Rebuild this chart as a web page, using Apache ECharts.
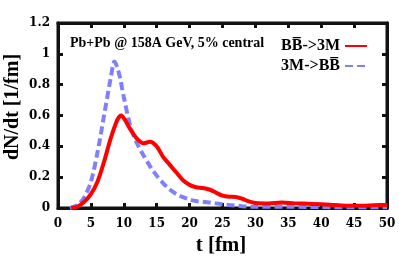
<!DOCTYPE html>
<html><head><meta charset="utf-8">
<script src="https://cdn.jsdelivr.net/npm/echarts@6/dist/echarts.min.js"></script>
<style>html,body{margin:0;padding:0;background:#fff}#c{width:399px;height:259px}</style>
</head><body><div id="c"></div>
<script>
const redT = [2, 3, 4, 5, 6, 7, 8, 9, 9.6, 10.2, 11, 12, 13, 14, 15, 16, 17, 18, 19, 20, 21, 22, 23, 24, 25, 26, 27, 28, 29, 30, 32, 34, 36, 38, 40, 42, 44, 46, 48, 50];
const redY = [0, 0.01, 0.04, 0.09, 0.17, 0.30, 0.45, 0.57, 0.6, 0.57, 0.51, 0.45, 0.42, 0.43, 0.40, 0.33, 0.28, 0.23, 0.18, 0.15, 0.135, 0.13, 0.12, 0.1, 0.08, 0.073, 0.072, 0.06, 0.043, 0.033, 0.03, 0.035, 0.03, 0.028, 0.025, 0.02, 0.015, 0.015, 0.018, 0.02];
const blueT = [1.8, 3, 4, 5, 6, 7, 8, 8.6, 9.1, 9.5, 10, 11, 12, 13, 14, 15, 16, 17, 18, 19, 20, 21, 22, 24, 26, 28, 30, 35, 40, 45, 50];
const blueY = [0, 0.02, 0.07, 0.17, 0.36, 0.6, 0.84, 0.95, 0.9, 0.83, 0.72, 0.53, 0.42, 0.34, 0.27, 0.21, 0.16, 0.12, 0.09, 0.07, 0.055, 0.045, 0.04, 0.03, 0.02, 0.012, 0.008, 0.008, 0.006, 0.005, 0.005];
const seriesNames = ['BB\u0305->3M', '3M->BB\u0305'];
const annotation = 'Pb+Pb @ 158A GeV, 5% central';
const xTitle = 't [fm]';
const yTitle = 'dN/dt [1/fm]';
const xRange = [0, 50];
const yRange = [0, 1.2];

const serif = '"Liberation Serif", "Times New Roman", serif';
const ink = '#111111';
const tickFont = () => ({fontFamily: '"DejaVu Serif", serif', fontWeight: 'bold', fontSize: 12, color: '#000000'});
const chart = echarts.init(document.getElementById('c'), null, {renderer: 'canvas'});
const pair = (t, y) => t.map((v, i) => [v, y[i]]);
const axisLine = () => ({show: true, onZero: false, lineStyle: {color: ink, width: 3}});
const axisTick = () => ({show: true, inside: true, length: 5, lineStyle: {color: ink, width: 3}});
chart.setOption({
  animation: false,
  grid: {left: 58, right: 12, top: 23, bottom: 51, outerBoundsMode: 'none', containLabel: false,
    show: true, borderColor: ink, borderWidth: 3, backgroundColor: 'transparent'},
  title: {text: annotation, left: 70, top: 36, padding: 0, textStyle: {fontFamily: serif, fontWeight: 'bold', fontSize: 14, color: '#000000'}},
  legend: {
    orient: 'vertical', align: 'right', right: 31, top: 38, padding: 0, itemWidth: 22, itemHeight: 14, itemGap: 4,
    itemStyle: {opacity: 0},
    textStyle: {fontFamily: serif, fontWeight: 'bold', fontSize: 16, color: '#000000'},
    data: seriesNames
  },
  xAxis: [
    {type: 'value', min: xRange[0], max: xRange[1], interval: 5, position: 'bottom',
      axisLine: axisLine(), axisTick: axisTick(), splitLine: {show: false},
      axisLabel: Object.assign({show: true, margin: 10}, tickFont())},
    {type: 'value', min: xRange[0], max: xRange[1], interval: 5, position: 'top',
      axisLine: axisLine(), axisTick: axisTick(), splitLine: {show: false}, axisLabel: {show: false}}
  ],
  yAxis: [
    {type: 'value', min: yRange[0], max: yRange[1], interval: 0.2, position: 'left',
      axisLine: axisLine(), axisTick: axisTick(), splitLine: {show: false},
      axisLabel: Object.assign({show: true, margin: 8}, tickFont())},
    {type: 'value', min: yRange[0], max: yRange[1], interval: 0.2, position: 'right',
      axisLine: axisLine(), axisTick: axisTick(), splitLine: {show: false}, axisLabel: {show: false}}
  ],
  graphic: [
    {type: 'text', x: 221, y: 246, silent: true,
      style: {text: xTitle, align: 'center', verticalAlign: 'middle', font: 'bold 21px "Liberation Serif", serif', fill: '#000000'}},
    {type: 'text', x: 13, y: 107, rotation: Math.PI / 2, silent: true,
      style: {text: yTitle, align: 'center', verticalAlign: 'middle', font: 'bold 20px "Liberation Serif", serif', fill: '#000000'}}
  ],
  series: [
    {name: seriesNames[0], type: 'line', smooth: 0.3, symbol: 'none', data: pair(redT, redY),
      lineStyle: {color: '#ff0000', width: 4}, itemStyle: {color: '#ff0000'}, z: 3},
    {name: seriesNames[1], type: 'line', smooth: 0.3, symbol: 'none', data: pair(blueT, blueY),
      lineStyle: {color: '#8080ff', width: 4, type: [8, 4]}, itemStyle: {color: '#8080ff'}, z: 2}
  ]
});
</script></body></html>
